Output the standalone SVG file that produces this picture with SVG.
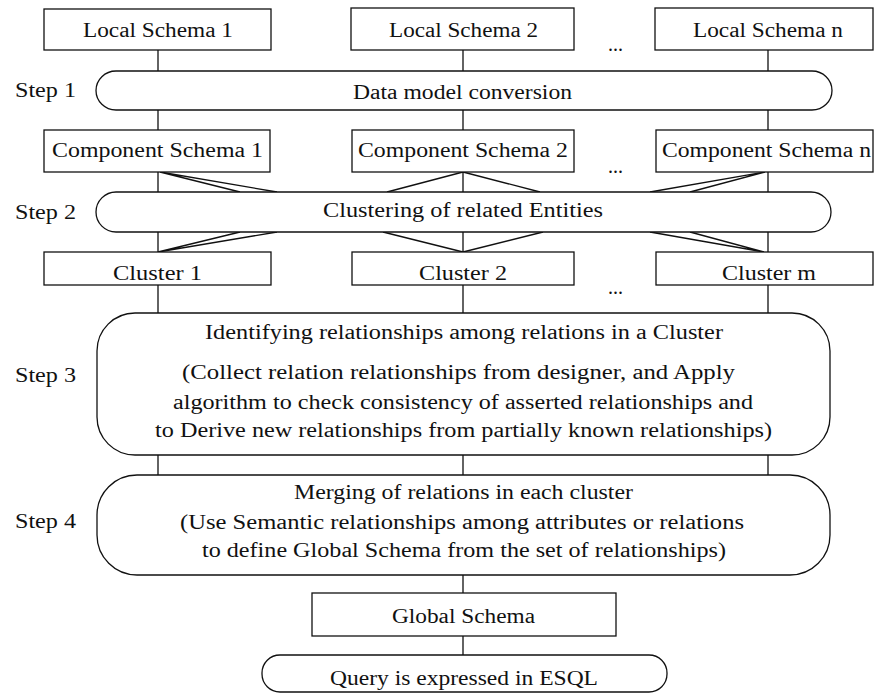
<svg xmlns="http://www.w3.org/2000/svg" width="883" height="693" viewBox="0 0 883 693">
<style>
.b{fill:#fff;stroke:#111;stroke-width:1.3}
.c{stroke:#111;stroke-width:1.3;fill:none}
text{font-family:"Liberation Serif","Times New Roman",serif;font-size:20px;fill:#111}
</style>
<rect width="883" height="693" fill="#fff"/>
<g id="connectors">
<path class="c" d="M158,50V71M463,50V71M768,50V71M158,110V130M463,110V130M768,110V130M158,172V192M463,172V192M768,172V192M158,232V252M463,232V252M768,232V252M158,285V313M463,285V313M768,285V313M158,455V475M463,455V475M768,455V475M463,575V593M463,636V655"/>
<path class="c" d="M160,172L240,192M160,172L277,192M463,172L387,192M463,172L540,192M765,172L650,192M765,172L690,192"/>
<path class="c" d="M240,232L158,252M277,232L158,252M383,232L463,252M543,232L463,252M650,232L764,252M690,232L764,252"/>
</g>
<g id="local1"><rect class="b" x="44" y="9" width="227" height="41"/><text x="83" y="37" textLength="150" lengthAdjust="spacingAndGlyphs">Local Schema 1</text></g>
<g id="local2"><rect class="b" x="351" y="8" width="223" height="42"/><text x="389" y="37" textLength="149" lengthAdjust="spacingAndGlyphs">Local Schema 2</text></g>
<g id="localn"><rect class="b" x="655" y="8" width="218" height="42"/><text x="693" y="37" textLength="150" lengthAdjust="spacingAndGlyphs">Local Schema n</text></g>
<g id="dots1"><text x="608" y="51">...</text></g>
<g id="step1label"><text x="15" y="97" textLength="61" lengthAdjust="spacingAndGlyphs">Step 1</text></g>
<g id="step1"><rect class="b" x="96" y="71" width="736" height="39" rx="20" ry="19.5"/><text x="353" y="99" textLength="219" lengthAdjust="spacingAndGlyphs">Data model conversion</text></g>
<g id="comp1"><rect class="b" x="44" y="130" width="226" height="42"/><text x="52" y="157" textLength="211" lengthAdjust="spacingAndGlyphs">Component Schema 1</text></g>
<g id="comp2"><rect class="b" x="352" y="130" width="222" height="42"/><text x="358" y="157" textLength="210" lengthAdjust="spacingAndGlyphs">Component Schema 2</text></g>
<g id="compn"><rect class="b" x="656" y="130" width="217" height="42"/><text x="662" y="157" textLength="209" lengthAdjust="spacingAndGlyphs">Component Schema n</text></g>
<g id="dots2"><text x="608" y="173">...</text></g>
<g id="step2label"><text x="15" y="219" textLength="61" lengthAdjust="spacingAndGlyphs">Step 2</text></g>
<g id="step2"><rect class="b" x="96" y="192" width="735" height="40" rx="20" ry="20"/><text x="323" y="217" textLength="280" lengthAdjust="spacingAndGlyphs">Clustering of related Entities</text></g>
<g id="cluster1"><rect class="b" x="44" y="252" width="227" height="33"/><text x="113" y="280" textLength="89" lengthAdjust="spacingAndGlyphs">Cluster 1</text></g>
<g id="cluster2"><rect class="b" x="352" y="252" width="222" height="33"/><text x="419" y="280" textLength="88" lengthAdjust="spacingAndGlyphs">Cluster 2</text></g>
<g id="clusterm"><rect class="b" x="656" y="252" width="217" height="33"/><text x="722" y="280" textLength="94" lengthAdjust="spacingAndGlyphs">Cluster m</text></g>
<g id="dots3"><text x="608" y="294">...</text></g>
<g id="step3label"><text x="15" y="382" textLength="61" lengthAdjust="spacingAndGlyphs">Step 3</text></g>
<g id="step3"><rect class="b" x="97" y="313" width="733" height="142" rx="38" ry="38"/>
<text x="205" y="339" textLength="518" lengthAdjust="spacingAndGlyphs">Identifying relationships among relations in a Cluster</text>
<text x="182" y="379" textLength="553" lengthAdjust="spacingAndGlyphs">(Collect relation relationships from designer, and Apply</text>
<text x="173" y="409" textLength="580" lengthAdjust="spacingAndGlyphs">algorithm to check consistency of asserted relationships and</text>
<text x="155" y="437" textLength="617" lengthAdjust="spacingAndGlyphs">to Derive new relationships from partially known relationships)</text></g>
<g id="step4label"><text x="15" y="528" textLength="61" lengthAdjust="spacingAndGlyphs">Step 4</text></g>
<g id="step4"><rect class="b" x="97" y="475" width="733" height="100" rx="40" ry="40"/>
<text x="294" y="499" textLength="339" lengthAdjust="spacingAndGlyphs">Merging of relations in each cluster</text>
<text x="180" y="529" textLength="564" lengthAdjust="spacingAndGlyphs">(Use Semantic relationships among attributes or relations</text>
<text x="202" y="557" textLength="524" lengthAdjust="spacingAndGlyphs">to define Global Schema from the set of relationships)</text></g>
<g id="global"><rect class="b" x="312" y="593" width="304" height="43"/><text x="392" y="623" textLength="143" lengthAdjust="spacingAndGlyphs">Global Schema</text></g>
<g id="query"><rect class="b" x="262" y="655" width="405" height="37" rx="18" ry="18"/><text x="330" y="685" textLength="268" lengthAdjust="spacingAndGlyphs">Query is expressed in ESQL</text></g>
</svg>
